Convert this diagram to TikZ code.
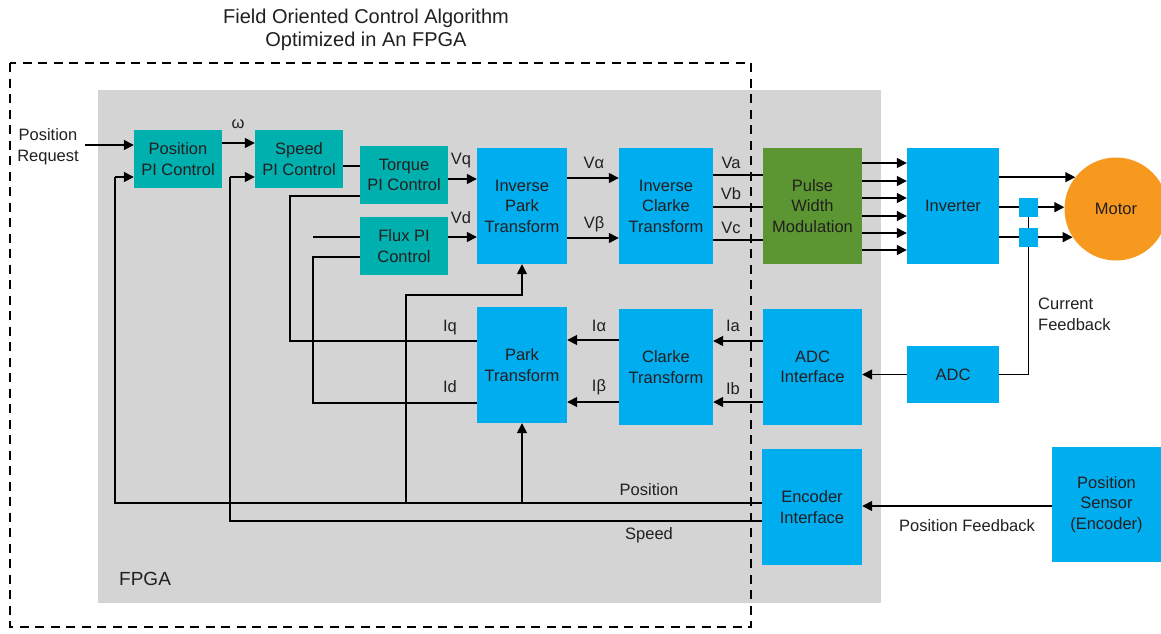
\documentclass[tikz,border=0pt]{standalone}
\usepackage{fontspec}
\setmainfont{Liberation Sans}
\usetikzlibrary{arrows.meta}

\definecolor{tealc}{RGB}{0,176,174}
\definecolor{bluec}{RGB}{0,173,239}
\definecolor{greenc}{RGB}{92,150,50}
\definecolor{orangec}{RGB}{247,153,30}
\definecolor{fpgagray}{RGB}{211,212,211}
\definecolor{txt}{RGB}{35,31,32}

\begin{document}
\begin{tikzpicture}[x=1pt,y=-1pt,
  every node/.append style={text=txt, font=\fontsize{16.5}{20.5}\selectfont},
  blk/.style={draw=none, inner sep=0pt, align=center},
  tealblk/.style={blk, fill=tealc},
  blueblk/.style={blk, fill=bluec},
  wire/.style={line width=1.5pt, draw=black},
  arr/.style={wire, -{Triangle[length=10pt,width=10pt]}},
  lbl/.style={inner sep=0pt, anchor=base},
]
\useasboundingbox (0,0) rectangle (1161,633);

% FPGA area
\fill[fpgagray] (98,90) rectangle (881,603);
\node[lbl, anchor=base west, font=\fontsize{19}{23}\selectfont] (fpga) at (119,585) {FPGA};

% title
\node[align=center, inner sep=0pt, font=\fontsize{20}{23}\selectfont] (title) at (366,29.5)
  {Field Oriented Control Algorithm\\Optimized in An FPGA};

% controller blocks
\node[tealblk, minimum width=88pt, minimum height=58pt] (pospi) at (178,159) {Position\\PI Control};
\node[tealblk, minimum width=88pt, minimum height=58pt] (spdpi) at (299,159) {Speed\\PI Control};
\node[tealblk, minimum width=88pt, minimum height=58pt] (tqpi) at (404,175) {Torque\\PI Control};
\node[tealblk, minimum width=88pt, minimum height=58pt] (fluxpi) at (404,246) {Flux PI\\Control};

% transforms
\node[blueblk, minimum width=90pt, minimum height=116pt] (ipark) at (522,206) {Inverse\\Park\\Transform};
\node[blueblk, minimum width=94pt, minimum height=116pt] (iclarke) at (666,206) {Inverse\\Clarke\\Transform};
\node[blk, fill=greenc, minimum width=99pt, minimum height=116pt] (pwm) at (812.5,206) {Pulse\\Width\\Modulation};
\node[blueblk, minimum width=92pt, minimum height=116pt] (inverter) at (953,206) {Inverter};
\node[circle, fill=orangec, draw=none, inner sep=0pt, minimum size=103pt] (motor) at (1116,209) {Motor};

\node[blueblk, minimum width=90pt, minimum height=116pt] (park) at (522,365) {Park\\Transform};
\node[blueblk, minimum width=94pt, minimum height=116pt] (clarke) at (666,367) {Clarke\\Transform};
\node[blueblk, minimum width=99pt, minimum height=116pt] (adcif) at (812.5,367) {ADC\\Interface};
\node[blueblk, minimum width=92pt, minimum height=57pt] (adc) at (953,374.5) {ADC};
\node[blueblk, minimum width=100pt, minimum height=116pt] (encif) at (812,507) {Encoder\\Interface};
\node[blueblk, minimum width=109pt, minimum height=115pt] (possens) at (1106.5,504.5) {Position\\Sensor\\(Encoder)};

% setpoint input
\node[lbl, align=center, font=\fontsize{16.5}{21}\selectfont] (preqtxt) at (48,161) {Position\\Request};
\coordinate (preq) at (85,145);
\draw[arr] (preq) -- (pospi.west |- preq);

% forward path
\draw[arr] (pospi.east |- 0,143) -- (spdpi.west |- 0,143);
\node[lbl] (omega) at (238,128) {ω};
\draw[wire] (spdpi.east |- 0,166) -- (tqpi.west |- 0,166);
\draw[arr] (tqpi.east |- 0,179) -- (ipark.west |- 0,179);
\node[lbl] (vq) at (461,164) {Vq};
\draw[arr] (fluxpi.east |- 0,237) -- (ipark.west |- 0,237);
\node[lbl] (vd) at (461,223) {Vd};
\coordinate (fluxref) at (313,237);
\draw[wire] (fluxref) -- (fluxpi.west |- fluxref);

\draw[arr] (ipark.east |- 0,178) -- (iclarke.west |- 0,178);
\node[lbl] (valpha) at (594,168) {Vα};
\draw[arr] (ipark.east |- 0,238) -- (iclarke.west |- 0,238);
\node[lbl] (vbeta) at (594,228) {Vβ};

\draw[wire] (iclarke.east |- 0,175) -- (pwm.west |- 0,175);
\draw[wire] (iclarke.east |- 0,207) -- (pwm.west |- 0,207);
\draw[wire] (iclarke.east |- 0,240) -- (pwm.west |- 0,240);
\node[lbl] (va) at (731,168) {Va};
\node[lbl] (vb) at (731,199) {Vb};
\node[lbl] (vc) at (731,233) {Vc};

% gate signals
\foreach \gy in {163,181,198,216,233,250}
  \draw[arr] (pwm.east |- 0,\gy) -- (inverter.west |- 0,\gy);

% phase outputs
\draw[arr] (inverter.east |- motor.142) -- (motor.142);
\draw[arr] (inverter.east |- motor.178) -- (motor.178);
\draw[arr] (inverter.east |- motor.213) -- (motor.213);

% current sensors on two phases
\node[blueblk, minimum size=19pt] (cs1) at (1028.5,207.5) {};
\node[blueblk, minimum size=19pt] (cs2) at (1028.5,237.5) {};
\draw[wire] (cs1.south) -- (cs2.north);
\draw[wire] (adc.east) -| (cs2.south);
\node[lbl, anchor=base west, align=left] (curfb) at (1038,330) {Current\\Feedback};
\draw[arr] (adc.west) -- (adcif.east |- adc.west);

% current feedback path
\draw[arr] (adcif.west |- 0,341) -- (clarke.east |- 0,341);
\draw[arr] (adcif.west |- 0,402) -- (clarke.east |- 0,402);
\node[lbl] (ia) at (733,331) {Ia};
\node[lbl] (ib) at (733,394) {Ib};
\draw[arr] (clarke.west |- 0,340) -- (park.east |- 0,340);
\draw[arr] (clarke.west |- 0,402) -- (park.east |- 0,402);
\node[lbl] (ialpha) at (599,331) {Iα};
\node[lbl] (ibeta) at (599,391) {Iβ};

\draw[wire] (park.west |- 0,341) -- (290,341) -- (290,196) -- (tqpi.west |- 0,196);
\draw[wire] (park.west |- 0,403) -- (313,403) -- (313,257) -- (fluxpi.west |- 0,257);
\node[lbl] (iq) at (450,331) {Iq};
\node[lbl] (id) at (450,392) {Id};

% position and speed feedback
\draw[wire] (encif.west |- 0,503) -- (115,503) -- (115,177);
\draw[arr] (115,177) -- (pospi.west |- 0,177);
\draw[wire] (encif.west |- 0,521) -- (230,521) -- (230,177);
\draw[arr] (230,177) -- (spdpi.west |- 0,177);
\draw[arr] (406,503) -- (406,295) -| (ipark.south);
\draw[arr] (park.south |- 0,503) -- (park.south);
\node[lbl] (postxt) at (649,495) {Position};
\node[lbl] (spdtxt) at (649,539) {Speed};

\draw[arr] (possens.west |- 0,506) -- (encif.east |- 0,506);
\node[lbl] (posfb) at (967,531) {Position Feedback};

% FPGA partition boundary
\draw[line width=1.8pt, dash pattern=on 9pt off 6.5pt] (10,63) rectangle (751,627);
\end{tikzpicture}
\end{document}
